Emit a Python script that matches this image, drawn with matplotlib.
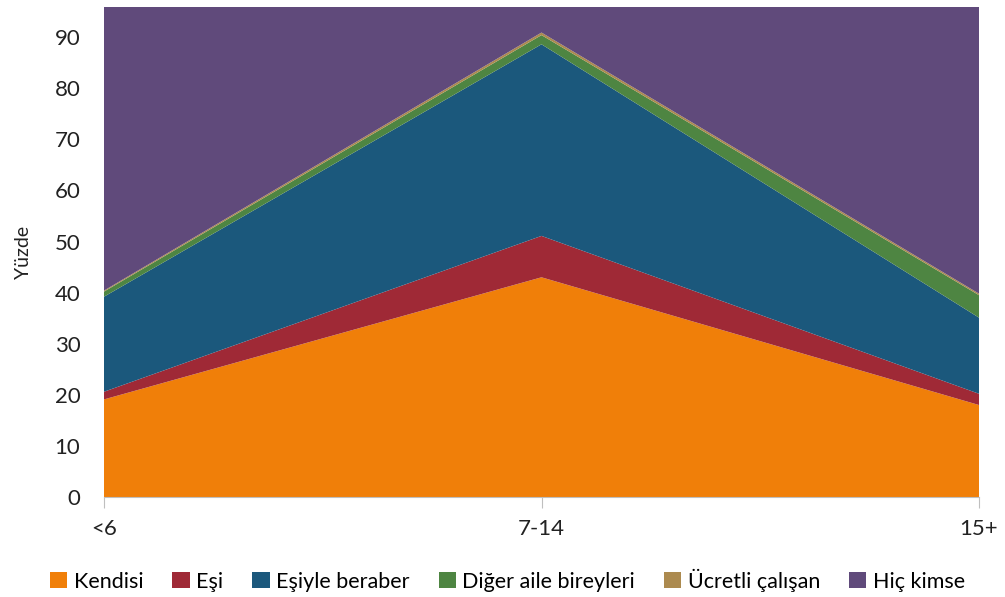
import matplotlib
matplotlib.use("Agg")
import matplotlib.pyplot as plt
from matplotlib.patches import Patch

plt.rcParams['font.family'] = ['Lato', 'DejaVu Sans']

categories = ["<6", "7-14", "15+"]
series_names = ["Kendisi", "Eşi", "Eşiyle beraber", "Diğer aile bireyleri", "Ücretli çalışan", "Hiç kimse"]
kendisi = [19.1, 43.0, 18.0]
esi = [1.5, 8.1, 2.2]
esiyle_beraber = [18.6, 37.5, 14.9]
diger_aile = [1.0, 1.8, 4.4]
ucretli = [0.2, 0.5, 0.3]
hic_kimse = [59.6, 9.1, 60.2]
colors = ["#F07F09", "#9F2936", "#1B587C", "#4E8542", "#AC8A4F", "#604A7B"]

fig = plt.figure(figsize=(10.05, 5.97), dpi=100)
ax = fig.add_axes([104/1005, 1-497/597, (979-104)/1005, (497-7)/597])

x = list(range(len(categories)))
ax.stackplot(x, kendisi, esi, esiyle_beraber, diger_aile, ucretli, hic_kimse,
             colors=colors, linewidth=0)

ax.set_xlim(0, 2)
ax.set_ylim(0, 95.9)
ax.set_yticks(range(0, 100, 10))
ax.set_xticks(x)
ax.set_xticklabels(categories)
for s in ["top", "right", "left"]:
    ax.spines[s].set_visible(False)
ax.spines["bottom"].set_color("#BFBFBF")
ax.tick_params(axis="x", direction="out", length=8, color="#BFBFBF", pad=8, labelsize=16, labelcolor="#222222")
ax.tick_params(axis="y", length=0, pad=17, labelsize=16, labelcolor="#222222")
ax.set_ylabel("Yüzde", fontsize=14, labelpad=16, color="#222222")

handles = [Patch(facecolor=c, edgecolor="none") for c in colors]
fig.legend(handles, series_names, loc="center", bbox_to_anchor=(0.505, 1-580/597), ncol=6,
           frameon=False, fontsize=15.5, handlelength=0.8, handleheight=0.8,
           handletextpad=0.3, columnspacing=1.35)

fig.savefig("out.png", dpi=100)
